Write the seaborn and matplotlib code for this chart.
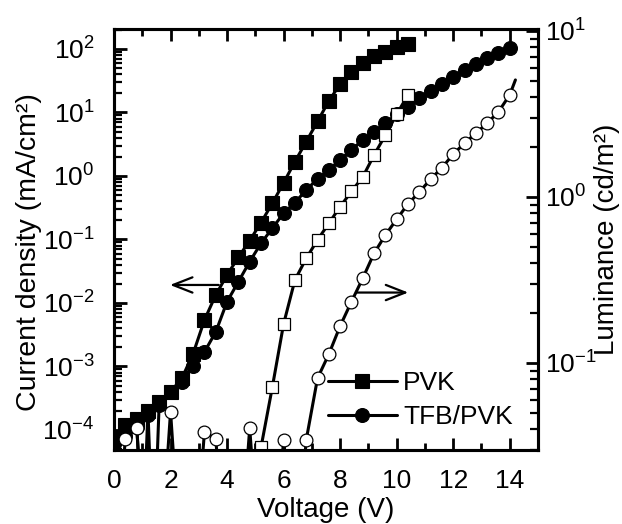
import numpy as np
import matplotlib
matplotlib.use("Agg")
import matplotlib.pyplot as plt
import seaborn as sns

# ---------------- data ----------------
# PVK current density (mA/cm^2), filled squares
v_pvk_j = [0.0, 0.4, 0.8, 1.0, 1.2, 1.4, 1.6, 2.0, 2.4, 2.8, 3.2, 3.6, 4.0, 4.4,
           4.8, 5.2, 5.6, 6.0, 6.4, 6.8, 7.2, 7.6, 8.0, 8.4, 8.8, 9.2, 9.6, 10.0, 10.4]
j_pvk = [7.5e-5, 1.2e-4, 1.5e-4, 1e-6, 2.0e-4, 1e-6, 2.8e-4, 4.0e-4, 6.5e-4, 1.6e-3,
         5.4e-3, 0.0134, 0.0276, 0.0525, 0.096, 0.184, 0.37, 0.78, 1.68, 3.47, 7.2,
         15.2, 27.8, 44.0, 60.0, 76.0, 91.0, 109.0, 119.0]

# TFB/PVK current density (mA/cm^2), filled circles
v_tfb_j = [0.0, 0.4, 0.8, 1.2, 1.6, 2.0, 2.4, 2.8, 3.2, 3.6, 4.0, 4.4, 4.8, 5.2,
           5.6, 6.0, 6.4, 6.8, 7.2, 7.6, 8.0, 8.4, 8.8, 9.2, 9.6, 10.0, 10.4, 10.8,
           11.2, 11.6, 12.0, 12.4, 12.8, 13.2, 13.6, 14.0]
j_tfb = [6.0e-5, 8.0e-5, 1.1e-4, 1.7e-4, 2.5e-4, 4.0e-4, 5.8e-4, 1.0e-3, 1.7e-3,
         3.5e-3, 0.0105, 0.0216, 0.0447, 0.087, 0.15, 0.259, 0.38, 0.60, 0.90, 1.24,
         1.79, 2.57, 3.69, 4.88, 6.76, 9.37, 12.3, 16.7, 21.8, 27.8, 36.6, 46.7,
         57.4, 71.4, 85.6, 102.6]

# PVK luminance (cd/m^2), open squares
v_pvk_l = [4.4, 4.8, 5.2, 5.6, 6.0, 6.4, 6.8, 7.2, 7.6, 8.0, 8.4, 8.8, 9.2, 9.6,
           10.0, 10.4]
l_pvk = [0.005, 0.01, 0.031, 0.0714, 0.172, 0.316, 0.427, 0.551, 0.694, 0.874,
         1.08, 1.32, 1.79, 2.36, 3.15, 4.12]

# TFB/PVK luminance (cd/m^2), open circles
v_tfb_l = [0.0, 0.4, 0.8, 1.2, 1.6, 2.0, 2.4, 2.8, 3.2, 3.6, 4.0, 4.4, 4.8, 5.2,
           5.6, 6.0, 6.4, 6.8, 7.2, 7.6, 8.0, 8.4, 8.8, 9.2, 9.6, 10.0, 10.4, 10.8,
           11.2, 11.6, 12.0, 12.4, 12.8, 13.2, 13.6, 14.0, 14.2]
l_tfb = [0.005, 0.0347, 0.0408, 0.005, 0.005, 0.0509, 0.005, 0.005, 0.0386, 0.0347,
         0.005, 0.005, 0.0404, 0.005, 0.005, 0.0344, 0.005, 0.0344, 0.081, 0.113,
         0.167, 0.234, 0.324, 0.458, 0.59, 0.734, 0.908, 1.07, 1.28, 1.50, 1.81,
         2.11, 2.42, 2.78, 3.26, 4.12, 5.07]

x_ticks = [0, 2, 4, 6, 8, 10, 12, 14]
x_ticklabels = ["0", "2", "4", "6", "8", "10", "12", "14"]
legend_labels = ["PVK", "TFB/PVK"]

# ---------------- style ----------------
sns.set_style("ticks")
plt.rcParams["font.family"] = ["Liberation Sans", "DejaVu Sans"]
plt.rcParams["mathtext.fontset"] = "custom"
plt.rcParams["mathtext.rm"] = "Liberation Sans"
plt.rcParams["axes.linewidth"] = 2.2
plt.rcParams["axes.edgecolor"] = "black"

fig = plt.figure(figsize=(6.22, 5.24), dpi=100)
ax = fig.add_axes([0.1833, 0.1412, 0.6817, 0.8035])
ax.set_yscale("log")
ax2 = ax.twinx()
ax2.set_yscale("log")

lw = 2.2
common = dict(color="black", linewidth=lw, estimator=None, sort=False)

sns.lineplot(x=v_pvk_j, y=j_pvk, ax=ax, marker="s", markersize=9.5,
             markerfacecolor="black", markeredgecolor="black", markeredgewidth=0.8,
             label=legend_labels[0], legend=False, **common)
sns.lineplot(x=v_tfb_j, y=j_tfb, ax=ax, marker="o", markersize=10,
             markerfacecolor="black", markeredgecolor="black", markeredgewidth=0.8,
             label=legend_labels[1], legend=False, **common)

sns.lineplot(x=v_pvk_l, y=l_pvk, ax=ax2, marker="s", markersize=8.2,
             markerfacecolor="white", markeredgecolor="black", markeredgewidth=0.9,
             legend=False, **common)
sns.lineplot(x=v_tfb_l, y=l_tfb, ax=ax2, marker="o", markersize=9.2,
             markerfacecolor="white", markeredgecolor="black", markeredgewidth=0.9,
             markevery=list(range(len(v_tfb_l) - 1)), legend=False, **common)

ax.set_xlim(0, 15)
ax.set_ylim(4.84e-5, 206)
ax2.set_ylim(0.0299, 10.28)

ax.set_xticks(x_ticks)
ax.set_xticklabels(x_ticklabels)
ax.xaxis.set_minor_locator(matplotlib.ticker.MultipleLocator(1))
for a in (ax, ax2):
    a.yaxis.set_major_locator(matplotlib.ticker.LogLocator(base=10, numticks=20))
    a.yaxis.set_minor_locator(matplotlib.ticker.LogLocator(base=10, subs=np.arange(2, 10), numticks=20))
    a.yaxis.set_minor_formatter(matplotlib.ticker.NullFormatter())

ax.tick_params(axis="x", which="major", direction="in", length=8.5, width=2.0,
               color="black", labelcolor="black", labelsize=19, pad=14,
               top=True, bottom=True)
ax.tick_params(axis="x", which="minor", direction="in", length=5, width=2.0,
               color="black", top=True, bottom=True)
ax.tick_params(axis="y", which="major", direction="in", length=9, width=2.0,
               color="black", labelcolor="black", labelsize=19, pad=14,
               left=True, right=False)
ax.tick_params(axis="y", which="minor", direction="in", length=5.5, width=1.6,
               color="black", left=True, right=False)
ax2.tick_params(axis="y", which="major", direction="in", length=9, width=2.0,
                color="black", labelcolor="black", labelsize=19, pad=5)
ax2.tick_params(axis="y", which="minor", direction="in", length=5.5, width=1.6,
                color="black")
for a in (ax, ax2):
    for s in a.spines.values():
        s.set_linewidth(2.2)
        s.set_color("black")

ax.set_xlabel("Voltage (V)", fontsize=20, labelpad=2.5, color="black")
ax.set_ylabel("Current density (mA/cm²)", fontsize=20.5, color="black")
ax.yaxis.set_label_coords(-0.17, 0.47)
ax2.set_ylabel("Luminance (cd/m²)", fontsize=20, labelpad=-2, color="black")

# direction arrows
ax.annotate("", xy=(0.132, 0.392), xytext=(0.247, 0.392), xycoords="axes fraction",
            arrowprops=dict(arrowstyle="->,head_length=1.4,head_width=0.55",
                            lw=1.6, color="black", shrinkA=0, shrinkB=0))
ax2.annotate("", xy=(0.694, 0.374), xytext=(0.572, 0.374), xycoords="axes fraction",
             arrowprops=dict(arrowstyle="->,head_length=1.4,head_width=0.55",
                             lw=1.6, color="black", shrinkA=0, shrinkB=0))

handles, labels = ax.get_legend_handles_labels()
leg = ax2.legend(handles, labels, loc="upper left", bbox_to_anchor=(0.505, 0.188),
                 frameon=False, fontsize=19, handlelength=2.6, handletextpad=0.25,
                 labelspacing=0.38, borderpad=0, borderaxespad=0, numpoints=1)
for t in leg.get_texts():
    t.set_color("black")

fig.savefig("out.png", dpi=100)
